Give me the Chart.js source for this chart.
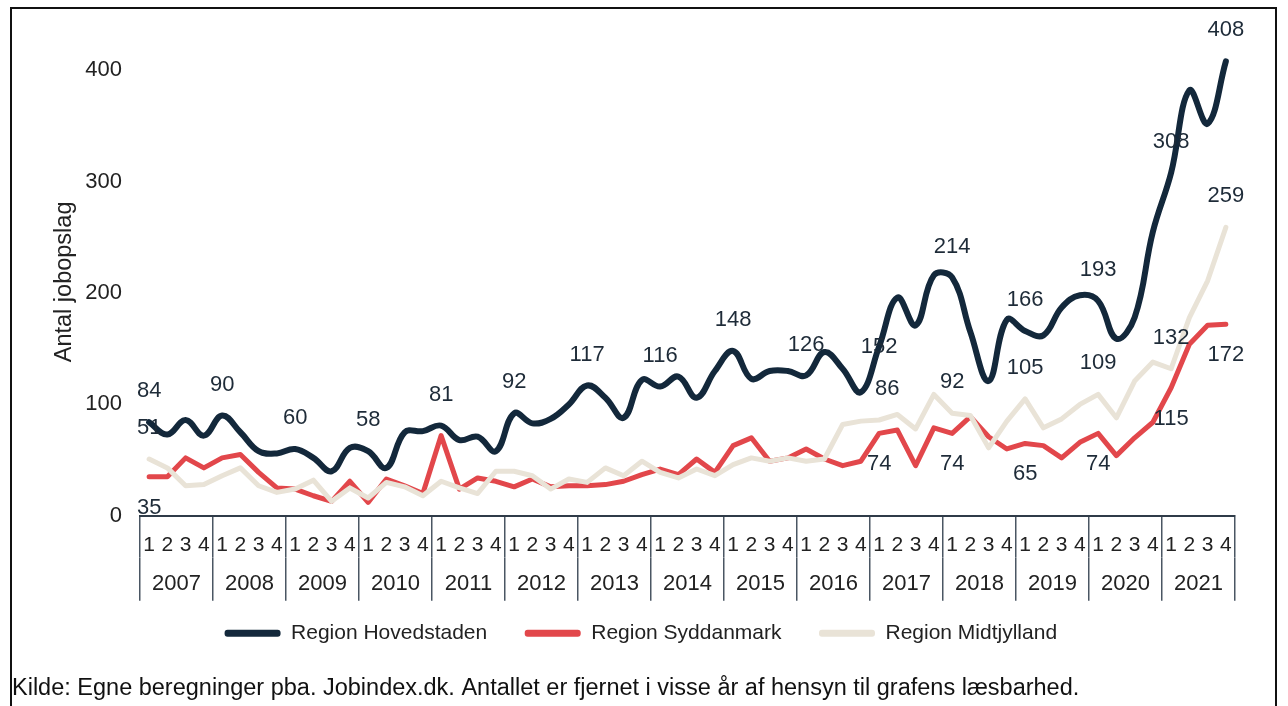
<!DOCTYPE html>
<html>
<head>
<meta charset="utf-8">
<script src="https://cdn.jsdelivr.net/npm/chart.js@4.4.1/dist/chart.umd.min.js"></script>
<style>
  html, body { margin: 0; padding: 0; background: #fff; }
  #wrap { position: relative; width: 1288px; height: 706px; }
  #frame { position: absolute; left: 10px; top: 7px; width: 1267px; height: 720px;
           border: 2px solid #111; box-sizing: border-box; }
  canvas { position: absolute; left: 0; top: 0; }
</style>
</head>
<body>
<div id="wrap">
  <div id="frame"></div>
  <canvas id="jobs" width="1288" height="706"></canvas>
</div>
<script>
// kvartaler og år
const years = ['2007', '2008', '2009', '2010', '2011', '2012', '2013', '2014',
               '2015', '2016', '2017', '2018', '2019', '2020', '2021'];
const quarters = ['1', '2', '3', '4'];

// antal jobopslag pr. kvartal
const hovedstaden = [84, 73, 86, 72,   90, 75, 58, 56,   60, 52, 40, 61,   58, 43, 75, 76,
                     81, 68, 71, 58,   92, 83, 87, 100,  117, 106, 88, 122, 116, 125, 106, 130,
                     148, 123, 130, 130, 126, 147, 132, 111, 152, 196, 171, 216, 214, 165, 121, 176,
                     166, 162, 187, 198, 193, 159, 178, 255, 308, 382, 352, 408];
const syddanmark = [35, 35, 52, 43,   52, 55, 39, 25,   24, 18, 13, 31,   12, 33, 27, 20,
                    72, 24, 34, 31,   26, 33, 26, 27,   27, 28, 31, 37,   42, 37, 51, 39,
                    63, 70, 49, 52,   60, 51, 45, 49,   74, 77, 45, 79,   74, 89, 71, 60,
                    65, 63, 52, 66,   74, 54, 70, 84,   115, 154, 171, 172];
const midtjylland = [51, 43, 27, 28,  36, 43, 27, 21,   24, 32, 13, 25,   16, 30, 26, 18,
                     31, 25, 20, 40,  40, 36, 24, 33,   30, 43, 36, 49,   39, 34, 42, 36,
                     46, 52, 49, 52,  49, 51, 82, 85,   86, 91, 78, 109,  92, 90, 61, 85,
                     105, 79, 87, 100, 109, 88, 121, 138, 132, 178, 211, 259];

// hvilke punkter der har værdimærke
const hovedLabelAt = [0, 4, 8, 12, 16, 20, 24, 28, 32, 36, 40, 44, 48, 52, 56, 59];
const syddanLabelAt = [0, 40, 44, 48, 52, 56, 59];
const midtLabelAt = [0, 40, 44, 48, 52, 56, 59];

const yTicks = [0, 100, 200, 300, 400];

const quarterLabels = years.flatMap(() => quarters);

const FONT = '"Liberation Sans", Arial, sans-serif';
const NAVY = '#13283b';
const RED = '#e2474b';
const BEIGE = '#e9e3d7';
const SEP = '#4a5663';

// luft efter hver forklaring (sidste skubber rækken på plads)
const legendGap = ['   ', '   ', ' '.repeat(16)];

// tegner tallene ved punkterne
const valueLabels = {
  id: 'valueLabels',
  afterDatasetsDraw(chart, args, opts) {
    const ctx = chart.ctx;
    ctx.save();
    ctx.font = '22px ' + FONT;
    ctx.fillStyle = '#1e2b38';
    ctx.textAlign = 'center';
    ctx.textBaseline = 'middle';
    opts.series.forEach((s, di) => {
      const meta = chart.getDatasetMeta(di);
      const data = chart.data.datasets[di].data;
      s.at.forEach(i => {
        const pt = meta.data[i];
        const fix = (s.fix && s.fix[i]) || {};
        const dx = fix.dx !== undefined ? fix.dx : 0;
        const dy = fix.dy !== undefined ? fix.dy : s.dy;
        ctx.fillText(String(data[i]), pt.x + dx, pt.y + dy);
      });
    });
    ctx.restore();
  }
};

const sepColor = c => (c.index === undefined || c.index % 4 === 0) ? SEP : 'rgba(0,0,0,0)';

new Chart(document.getElementById('jobs'), {
  type: 'line',
  data: {
    labels: quarterLabels,
    datasets: [
      { label: 'Region Hovedstaden', data: hovedstaden, borderColor: NAVY, backgroundColor: NAVY,
        borderWidth: 6, tension: 0.4, order: 3 },
      { label: 'Region Syddanmark', data: syddanmark, borderColor: RED, backgroundColor: RED,
        borderWidth: 5, tension: 0, order: 2 },
      { label: 'Region Midtjylland', data: midtjylland, borderColor: BEIGE, backgroundColor: BEIGE,
        borderWidth: 5, tension: 0, order: 1 }
    ]
  },
  options: {
    responsive: false,
    animation: false,
    layout: { padding: { left: 12, right: 53, top: 48, bottom: 3 } },
    elements: {
      point: { radius: 0, hoverRadius: 0 },
      line: { borderCapStyle: 'round', borderJoinStyle: 'round' }
    },
    scales: {
      y: {
        min: 0, max: 420,
        grid: { display: false, drawTicks: false },
        border: { display: false },
        afterBuildTicks: s => { s.ticks = yTicks.map(v => ({ value: v })); },
        ticks: {
          padding: 18, color: '#222',
          font: { family: FONT, size: 22 }
        },
        title: { display: true, text: 'Antal jobopslag', color: '#222',
                 font: { family: FONT, size: 23.5 }, padding: { top: 38, bottom: 0 } },
        afterFit: s => { s.width = 128; }
      },
      x: {
        offset: true,
        grid: { offset: true, drawOnChartArea: false, tickLength: 42, color: sepColor, lineWidth: 1.5 },
        border: { display: true, color: '#2f3b48', width: 2 },
        ticks: { autoSkip: false, maxRotation: 0, padding: -25, color: '#222',
                 font: { family: FONT, size: 21 } },
        afterFit: s => { s.height = 42; }
      },
      x2: {
        type: 'category',
        labels: years,
        position: 'bottom',
        offset: true,
        grid: { offset: true, drawOnChartArea: false, tickLength: 43, color: SEP, lineWidth: 1.5 },
        border: { display: false },
        ticks: { autoSkip: false, maxRotation: 0, padding: -30, color: '#222',
                 font: { family: FONT, size: 22 } },
        afterFit: s => { s.height = 45; }
      }
    },
    plugins: {
      tooltip: { enabled: false },
      legend: {
        position: 'bottom',
        fullSize: false,
        labels: {
          boxWidth: 56, boxHeight: 7, padding: 20, color: '#222',
          font: { family: FONT, size: 21 },
          useBorderRadius: true, borderRadius: 3,
          generateLabels: chart => chart.data.datasets.map((ds, i) => ({
            text: ds.label + legendGap[i], fillStyle: ds.borderColor, strokeStyle: ds.borderColor,
            lineWidth: 0, hidden: false, datasetIndex: i, borderRadius: 3, fontColor: '#222'
          }))
        }
      },
      title: {
        display: true,
        position: 'bottom',
        align: 'start',
        text: 'Kilde: Egne beregninger pba. Jobindex.dk. Antallet er fjernet i visse år af hensyn til grafens læsbarhed.',
        color: '#111',
        font: { family: FONT, size: 23.5, weight: 'normal' },
        padding: { top: 21, bottom: 0 }
      },
      valueLabels: {
        series: [
          { at: hovedLabelAt, dy: -31, fix: { 40: { dy: 0 } } },
          { at: syddanLabelAt, dy: 31 },
          { at: midtLabelAt, dy: -31, fix: { 40: { dx: 8 } } }
        ]
      }
    }
  },
  plugins: [valueLabels]
});
</script>
</body>
</html>
